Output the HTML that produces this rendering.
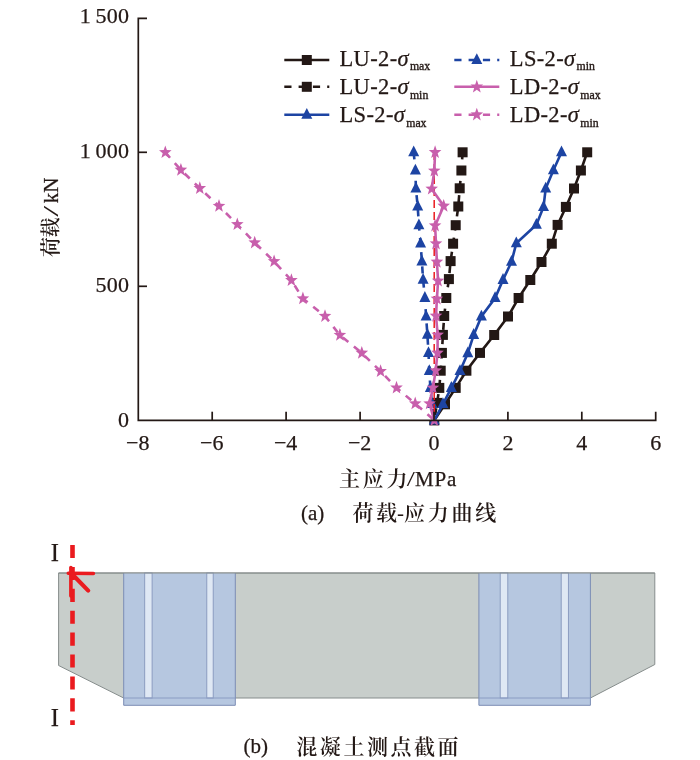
<!DOCTYPE html>
<html><head><meta charset="utf-8"><title>荷载-应力曲线</title>
<style>
html,body{margin:0;padding:0;background:#fff;}
svg{display:block;}
text{font-family:"Liberation Serif","Noto Serif CJK SC",serif;fill:#231815;}
.num{font-size:22px;stroke:#231815;stroke-width:0.25px;}
.leg{font-size:22.5px;letter-spacing:0.35px;stroke:#231815;stroke-width:0.25px;}
.sub{font-size:11.8px;letter-spacing:0;stroke:#231815;stroke-width:0.35px;}
.han{font-size:21px;font-weight:600;}
.hy{font-weight:400;}
.sl{font-size:21px;}
.I{font-size:24.5px;stroke:#231815;stroke-width:0.25px;}
.lat{font-size:21px;stroke:#231815;stroke-width:0.25px;}
</style></head>
<body>
<svg width="700" height="760" viewBox="0 0 700 760">
<rect width="700" height="760" fill="#fff"/>
<defs><clipPath id="below"><rect x="420" y="421.1" width="30" height="10"/></clipPath></defs>
<polyline points="587.2,152.3 580.9,170.5 574.0,188.5 565.9,206.9 557.6,224.9 551.8,243.7 541.5,262.0 530.3,280.0 518.6,298.0 508.0,316.5 494.2,335.0 480.0,352.9 466.4,370.7 455.7,387.9 445.0,404.3 434.3,420.3" fill="none" stroke="#231815" stroke-width="2.6"/>
<rect x="582.2" y="147.3" width="10" height="10" fill="#231815"/>
<rect x="575.9" y="165.5" width="10" height="10" fill="#231815"/>
<rect x="569.0" y="183.5" width="10" height="10" fill="#231815"/>
<rect x="560.9" y="201.9" width="10" height="10" fill="#231815"/>
<rect x="552.6" y="219.9" width="10" height="10" fill="#231815"/>
<rect x="546.8" y="238.7" width="10" height="10" fill="#231815"/>
<rect x="536.5" y="257.0" width="10" height="10" fill="#231815"/>
<rect x="525.3" y="275.0" width="10" height="10" fill="#231815"/>
<rect x="513.6" y="293.0" width="10" height="10" fill="#231815"/>
<rect x="503.0" y="311.5" width="10" height="10" fill="#231815"/>
<rect x="489.2" y="330.0" width="10" height="10" fill="#231815"/>
<rect x="475.0" y="347.9" width="10" height="10" fill="#231815"/>
<rect x="461.4" y="365.7" width="10" height="10" fill="#231815"/>
<rect x="450.7" y="382.9" width="10" height="10" fill="#231815"/>
<rect x="440.0" y="399.3" width="10" height="10" fill="#231815"/>
<polyline points="462.6,152.3 461.4,170.5 459.7,188.3 458.3,206.5 455.7,225.2 453.1,243.7 450.6,261.1 448.9,279.1 446.3,298.0 444.2,316.0 442.9,334.9 441.9,352.9 440.7,370.7 439.3,387.9 437.1,402.9 434.3,420.3" fill="none" stroke="#231815" stroke-width="2.6" stroke-dasharray="7.15 7.15"/>
<rect x="457.6" y="147.3" width="10" height="10" fill="#231815"/>
<rect x="456.4" y="165.5" width="10" height="10" fill="#231815"/>
<rect x="454.7" y="183.3" width="10" height="10" fill="#231815"/>
<rect x="453.3" y="201.5" width="10" height="10" fill="#231815"/>
<rect x="450.7" y="220.2" width="10" height="10" fill="#231815"/>
<rect x="448.1" y="238.7" width="10" height="10" fill="#231815"/>
<rect x="445.6" y="256.1" width="10" height="10" fill="#231815"/>
<rect x="443.9" y="274.1" width="10" height="10" fill="#231815"/>
<rect x="441.3" y="293.0" width="10" height="10" fill="#231815"/>
<rect x="439.2" y="311.0" width="10" height="10" fill="#231815"/>
<rect x="437.9" y="329.9" width="10" height="10" fill="#231815"/>
<rect x="436.9" y="347.9" width="10" height="10" fill="#231815"/>
<rect x="435.7" y="365.7" width="10" height="10" fill="#231815"/>
<rect x="434.3" y="382.9" width="10" height="10" fill="#231815"/>
<rect x="432.1" y="397.9" width="10" height="10" fill="#231815"/>
<polyline points="561.5,152.3 553.4,170.3 545.7,188.5 543.5,207.0 536.4,224.8 516.3,243.3 511.5,261.8 503.0,279.9 495.1,298.0 481.4,316.5 473.7,334.9 467.8,353.2 460.0,371.0 451.4,387.9 442.9,404.1 434.3,420.3" fill="none" stroke="#1D44A3" stroke-width="2.6"/>
<polygon points="561.5,145.5 556.0,156.3 567.0,156.3" fill="#1D44A3"/>
<polygon points="553.4,163.5 547.9,174.3 558.9,174.3" fill="#1D44A3"/>
<polygon points="545.7,181.7 540.2,192.5 551.2,192.5" fill="#1D44A3"/>
<polygon points="543.5,200.2 538.0,211.0 549.0,211.0" fill="#1D44A3"/>
<polygon points="536.4,218.0 530.9,228.8 541.9,228.8" fill="#1D44A3"/>
<polygon points="516.3,236.5 510.8,247.3 521.8,247.3" fill="#1D44A3"/>
<polygon points="511.5,255.0 506.0,265.8 517.0,265.8" fill="#1D44A3"/>
<polygon points="503.0,273.1 497.5,283.9 508.5,283.9" fill="#1D44A3"/>
<polygon points="495.1,291.2 489.6,302.0 500.6,302.0" fill="#1D44A3"/>
<polygon points="481.4,309.7 475.9,320.5 486.9,320.5" fill="#1D44A3"/>
<polygon points="473.7,328.1 468.2,338.9 479.2,338.9" fill="#1D44A3"/>
<polygon points="467.8,346.4 462.3,357.2 473.3,357.2" fill="#1D44A3"/>
<polygon points="460.0,364.2 454.5,375.0 465.5,375.0" fill="#1D44A3"/>
<polygon points="451.4,381.1 445.9,391.9 456.9,391.9" fill="#1D44A3"/>
<polygon points="442.9,397.3 437.4,408.1 448.4,408.1" fill="#1D44A3"/>
<polyline points="413.7,152.3 415.4,170.5 415.9,188.5 417.7,206.6 418.9,225.2 420.6,243.5 421.9,261.6 423.1,279.8 424.9,297.9 426.1,316.5 427.4,334.8 428.5,353.0 429.3,371.0 430.4,387.9 432.0,404.1 434.3,420.3" fill="none" stroke="#1D44A3" stroke-width="2.6" stroke-dasharray="7.15 7.15"/>
<polygon points="413.7,145.5 408.2,156.3 419.2,156.3" fill="#1D44A3"/>
<polygon points="415.4,163.7 409.9,174.5 420.9,174.5" fill="#1D44A3"/>
<polygon points="415.9,181.7 410.4,192.5 421.4,192.5" fill="#1D44A3"/>
<polygon points="417.7,199.8 412.2,210.6 423.2,210.6" fill="#1D44A3"/>
<polygon points="418.9,218.4 413.4,229.2 424.4,229.2" fill="#1D44A3"/>
<polygon points="420.6,236.7 415.1,247.5 426.1,247.5" fill="#1D44A3"/>
<polygon points="421.9,254.8 416.4,265.6 427.4,265.6" fill="#1D44A3"/>
<polygon points="423.1,273.0 417.6,283.8 428.6,283.8" fill="#1D44A3"/>
<polygon points="424.9,291.1 419.4,301.9 430.4,301.9" fill="#1D44A3"/>
<polygon points="426.1,309.7 420.6,320.5 431.6,320.5" fill="#1D44A3"/>
<polygon points="427.4,328.0 421.9,338.8 432.9,338.8" fill="#1D44A3"/>
<polygon points="428.5,346.2 423.0,357.0 434.0,357.0" fill="#1D44A3"/>
<polygon points="429.3,364.2 423.8,375.0 434.8,375.0" fill="#1D44A3"/>
<polygon points="430.4,381.1 424.9,391.9 435.9,391.9" fill="#1D44A3"/>
<polygon points="432.0,397.3 426.5,408.1 437.5,408.1" fill="#1D44A3"/>
<line x1="434.2" y1="152" x2="434.2" y2="420" stroke="#EA1B1F" stroke-width="1.5" stroke-dasharray="8 4"/>
<polyline points="435.1,152.3 434.3,170.9 431.7,188.9 443.7,206.0 435.1,225.7 436.0,243.7 436.9,262.0 438.1,280.9 436.9,298.9 436.0,316.0 437.7,334.9 437.5,353.0 435.7,370.7 432.9,387.9 429.6,403.6 434.3,421.0" fill="none" stroke="#C85FAC" stroke-width="2.6"/>
<polygon points="435.1,145.3 436.7,149.9 441.4,150.1 437.7,153.2 439.0,158.0 435.1,155.2 431.2,158.0 432.5,153.2 428.8,150.1 433.5,149.9" fill="#C85FAC"/>
<polygon points="434.3,163.9 435.9,168.5 440.6,168.7 436.9,171.8 438.2,176.6 434.3,173.8 430.4,176.6 431.7,171.8 428.0,168.7 432.7,168.5" fill="#C85FAC"/>
<polygon points="431.7,181.9 433.3,186.5 438.0,186.7 434.3,189.8 435.6,194.6 431.7,191.8 427.8,194.6 429.1,189.8 425.4,186.7 430.1,186.5" fill="#C85FAC"/>
<polygon points="443.7,199.0 445.3,203.6 450.0,203.8 446.3,206.9 447.6,211.7 443.7,208.9 439.8,211.7 441.1,206.9 437.4,203.8 442.1,203.6" fill="#C85FAC"/>
<polygon points="435.1,218.7 436.7,223.3 441.4,223.5 437.7,226.6 439.0,231.4 435.1,228.6 431.2,231.4 432.5,226.6 428.8,223.5 433.5,223.3" fill="#C85FAC"/>
<polygon points="436.0,236.7 437.6,241.3 442.3,241.5 438.6,244.6 439.9,249.4 436.0,246.6 432.1,249.4 433.4,244.6 429.7,241.5 434.4,241.3" fill="#C85FAC"/>
<polygon points="436.9,255.0 438.5,259.6 443.2,259.8 439.5,262.9 440.8,267.7 436.9,264.9 433.0,267.7 434.3,262.9 430.6,259.8 435.3,259.6" fill="#C85FAC"/>
<polygon points="438.1,273.9 439.7,278.5 444.4,278.7 440.7,281.8 442.0,286.6 438.1,283.8 434.2,286.6 435.5,281.8 431.8,278.7 436.5,278.5" fill="#C85FAC"/>
<polygon points="436.9,291.9 438.5,296.5 443.2,296.7 439.5,299.8 440.8,304.6 436.9,301.8 433.0,304.6 434.3,299.8 430.6,296.7 435.3,296.5" fill="#C85FAC"/>
<polygon points="436.0,309.0 437.6,313.6 442.3,313.8 438.6,316.9 439.9,321.7 436.0,318.9 432.1,321.7 433.4,316.9 429.7,313.8 434.4,313.6" fill="#C85FAC"/>
<polygon points="437.7,327.9 439.3,332.5 444.0,332.7 440.3,335.8 441.6,340.6 437.7,337.8 433.8,340.6 435.1,335.8 431.4,332.7 436.1,332.5" fill="#C85FAC"/>
<polygon points="437.5,346.0 439.1,350.6 443.8,350.8 440.1,353.9 441.4,358.7 437.5,355.9 433.6,358.7 434.9,353.9 431.2,350.8 435.9,350.6" fill="#C85FAC"/>
<polygon points="435.7,363.7 437.3,368.3 442.0,368.5 438.3,371.6 439.6,376.4 435.7,373.6 431.8,376.4 433.1,371.6 429.4,368.5 434.1,368.3" fill="#C85FAC"/>
<polygon points="432.9,380.9 434.5,385.5 439.2,385.7 435.5,388.8 436.8,393.6 432.9,390.8 429.0,393.6 430.3,388.8 426.6,385.7 431.3,385.5" fill="#C85FAC"/>
<polygon points="429.6,396.6 431.2,401.2 435.9,401.4 432.2,404.5 433.5,409.3 429.6,406.5 425.7,409.3 427.0,404.5 423.3,401.4 428.0,401.2" fill="#C85FAC"/>
<polyline points="165.3,152.4 180.9,170.0 199.8,188.3 219.0,206.1 237.3,224.4 254.7,242.7 274.1,261.4 291.4,280.3 302.9,298.6 325.0,316.2 339.9,335.1 361.8,353.0 380.6,371.3 396.5,387.8 415.2,403.6 434.3,420.3" fill="none" stroke="#C85FAC" stroke-width="2.6" stroke-dasharray="7.15 7.15"/>
<polygon points="165.3,145.4 166.9,150.0 171.6,150.2 167.9,153.3 169.2,158.1 165.3,155.3 161.4,158.1 162.7,153.3 159.0,150.2 163.7,150.0" fill="#C85FAC"/>
<polygon points="180.9,163.0 182.5,167.6 187.2,167.8 183.5,170.9 184.8,175.7 180.9,172.9 177.0,175.7 178.3,170.9 174.6,167.8 179.3,167.6" fill="#C85FAC"/>
<polygon points="199.8,181.3 201.4,185.9 206.1,186.1 202.4,189.2 203.7,194.0 199.8,191.2 195.9,194.0 197.2,189.2 193.5,186.1 198.2,185.9" fill="#C85FAC"/>
<polygon points="219.0,199.1 220.6,203.7 225.3,203.9 221.6,207.0 222.9,211.8 219.0,209.0 215.1,211.8 216.4,207.0 212.7,203.9 217.4,203.7" fill="#C85FAC"/>
<polygon points="237.3,217.4 238.9,222.0 243.6,222.2 239.9,225.3 241.2,230.1 237.3,227.3 233.4,230.1 234.7,225.3 231.0,222.2 235.7,222.0" fill="#C85FAC"/>
<polygon points="254.7,235.7 256.3,240.3 261.0,240.5 257.3,243.6 258.6,248.4 254.7,245.6 250.8,248.4 252.1,243.6 248.4,240.5 253.1,240.3" fill="#C85FAC"/>
<polygon points="274.1,254.4 275.7,259.0 280.4,259.2 276.7,262.3 278.0,267.1 274.1,264.3 270.2,267.1 271.5,262.3 267.8,259.2 272.5,259.0" fill="#C85FAC"/>
<polygon points="291.4,273.3 293.0,277.9 297.7,278.1 294.0,281.2 295.3,286.0 291.4,283.2 287.5,286.0 288.8,281.2 285.1,278.1 289.8,277.9" fill="#C85FAC"/>
<polygon points="302.9,291.6 304.5,296.2 309.2,296.4 305.5,299.5 306.8,304.3 302.9,301.5 299.0,304.3 300.3,299.5 296.6,296.4 301.3,296.2" fill="#C85FAC"/>
<polygon points="325.0,309.2 326.6,313.8 331.3,314.0 327.6,317.1 328.9,321.9 325.0,319.1 321.1,321.9 322.4,317.1 318.7,314.0 323.4,313.8" fill="#C85FAC"/>
<polygon points="339.9,328.1 341.5,332.7 346.2,332.9 342.5,336.0 343.8,340.8 339.9,338.0 336.0,340.8 337.3,336.0 333.6,332.9 338.3,332.7" fill="#C85FAC"/>
<polygon points="361.8,346.0 363.4,350.6 368.1,350.8 364.4,353.9 365.7,358.7 361.8,355.9 357.9,358.7 359.2,353.9 355.5,350.8 360.2,350.6" fill="#C85FAC"/>
<polygon points="380.6,364.3 382.2,368.9 386.9,369.1 383.2,372.2 384.5,377.0 380.6,374.2 376.7,377.0 378.0,372.2 374.3,369.1 379.0,368.9" fill="#C85FAC"/>
<polygon points="396.5,380.8 398.1,385.4 402.8,385.6 399.1,388.7 400.4,393.5 396.5,390.7 392.6,393.5 393.9,388.7 390.2,385.6 394.9,385.4" fill="#C85FAC"/>
<polygon points="415.2,396.6 416.8,401.2 421.5,401.4 417.8,404.5 419.1,409.3 415.2,406.5 411.3,409.3 412.6,404.5 408.9,401.4 413.6,401.2" fill="#C85FAC"/>
<g clip-path="url(#below)"><rect x="429.3" y="415.4" width="10" height="10" fill="#231815"/><polygon points="434.3,413.8 428.8,424.6 439.8,424.6" fill="#1D44A3"/><polygon points="434.3,413.3 435.9,417.9 440.6,418.1 436.9,421.2 438.2,426.0 434.3,423.2 430.4,426.0 431.7,421.2 428.0,418.1 432.7,417.9" fill="#C85FAC"/></g>
<path d="M147,18.3 H138.3 V420.3 H655.7 V411.7" fill="none" stroke="#231815" stroke-width="1.7"/>
<line x1="138.3" y1="152.3" x2="147" y2="152.3" stroke="#231815" stroke-width="1.7"/>
<line x1="138.3" y1="286.3" x2="147" y2="286.3" stroke="#231815" stroke-width="1.7"/>
<line x1="212.2" y1="420.3" x2="212.2" y2="411.7" stroke="#231815" stroke-width="1.7"/>
<line x1="286.1" y1="420.3" x2="286.1" y2="411.7" stroke="#231815" stroke-width="1.7"/>
<line x1="360.1" y1="420.3" x2="360.1" y2="411.7" stroke="#231815" stroke-width="1.7"/>
<line x1="434.0" y1="420.3" x2="434.0" y2="411.7" stroke="#231815" stroke-width="1.7"/>
<line x1="507.9" y1="420.3" x2="507.9" y2="411.7" stroke="#231815" stroke-width="1.7"/>
<line x1="581.8" y1="420.3" x2="581.8" y2="411.7" stroke="#231815" stroke-width="1.7"/>
<text x="129.2" y="23.3" text-anchor="end" class="num" style="letter-spacing:0.2px">1 500</text>
<text x="129.2" y="157.7" text-anchor="end" class="num" style="letter-spacing:0.2px">1 000</text>
<text x="129.2" y="292.2" text-anchor="end" class="num" style="letter-spacing:0.2px">500</text>
<text x="129.2" y="426.9" text-anchor="end" class="num" style="letter-spacing:0.2px">0</text>
<text x="137.8" y="449.5" text-anchor="middle" class="num">−8</text>
<text x="211.7" y="449.5" text-anchor="middle" class="num">−6</text>
<text x="285.6" y="449.5" text-anchor="middle" class="num">−4</text>
<text x="359.6" y="449.5" text-anchor="middle" class="num">−2</text>
<text x="434.0" y="449.5" text-anchor="middle" class="num">0</text>
<text x="507.9" y="449.5" text-anchor="middle" class="num">2</text>
<text x="581.8" y="449.5" text-anchor="middle" class="num">4</text>
<text x="655.7" y="449.5" text-anchor="middle" class="num">6</text>
<line x1="284.3" y1="60" x2="329.3" y2="60" stroke="#231815" stroke-width="2.6"/>
<rect x="301.8" y="55.0" width="10" height="10" fill="#231815"/>
<text x="339.5" y="65.7" class="leg">LU-2-<tspan font-style="italic">σ</tspan><tspan class="sub" dy="4.6" dx="1">max</tspan></text>
<line x1="284.3" y1="86.8" x2="329.3" y2="86.8" stroke="#231815" stroke-width="2.6" stroke-dasharray="7.2 7.1"/>
<rect x="301.8" y="81.8" width="10" height="10" fill="#231815"/>
<text x="339.5" y="94.2" class="leg">LU-2-<tspan font-style="italic">σ</tspan><tspan class="sub" dy="4.6" dx="1">min</tspan></text>
<line x1="284.3" y1="114.7" x2="329.3" y2="114.7" stroke="#1D44A3" stroke-width="2.6"/>
<polygon points="306.8,107.9 301.3,118.7 312.3,118.7" fill="#1D44A3"/>
<text x="339.5" y="122.3" class="leg">LS-2-<tspan font-style="italic">σ</tspan><tspan class="sub" dy="4.6" dx="1">max</tspan></text>
<line x1="454.3" y1="60" x2="499.3" y2="60" stroke="#1D44A3" stroke-width="2.6" stroke-dasharray="7.2 7.1"/>
<polygon points="476.8,53.2 471.3,64.0 482.3,64.0" fill="#1D44A3"/>
<text x="509.8" y="65.7" class="leg">LS-2-<tspan font-style="italic">σ</tspan><tspan class="sub" dy="4.6" dx="1">min</tspan></text>
<line x1="454.3" y1="86.8" x2="499.3" y2="86.8" stroke="#C85FAC" stroke-width="2.6"/>
<polygon points="476.8,79.8 478.4,84.4 483.1,84.6 479.4,87.7 480.7,92.5 476.8,89.7 472.9,92.5 474.2,87.7 470.5,84.6 475.2,84.4" fill="#C85FAC"/>
<text x="509.8" y="94.2" class="leg">LD-2-<tspan font-style="italic">σ</tspan><tspan class="sub" dy="4.6" dx="1">max</tspan></text>
<line x1="454.3" y1="114.7" x2="499.3" y2="114.7" stroke="#C85FAC" stroke-width="2.6" stroke-dasharray="7.2 7.1"/>
<polygon points="476.8,107.7 478.4,112.3 483.1,112.5 479.4,115.6 480.7,120.4 476.8,117.6 472.9,120.4 474.2,115.6 470.5,112.5 475.2,112.3" fill="#C85FAC"/>
<text x="509.8" y="122.3" class="leg">LD-2-<tspan font-style="italic">σ</tspan><tspan class="sub" dy="4.6" dx="1">min</tspan></text>

<g transform="translate(58.4,257.2) rotate(-90)">
<text x="0.3" y="-0.4" class="han" style="font-size:20px;letter-spacing:-0.6px">荷载</text>
<text transform="translate(45.9,0) scale(1.9,1)" text-anchor="middle" class="sl">/</text>
<text x="54" y="0" class="lat">kN</text>
</g>
<text x="339" y="486.3" class="han" style="letter-spacing:2.7px">主应力</text>
<text transform="translate(410.8,486) scale(1.4,1)" text-anchor="middle" class="sl">/</text>
<text x="415" y="486" class="lat" style="letter-spacing:0.8px">MPa</text>
<text x="301" y="519.5" class="lat">(a)</text>
<text x="352.4" y="519.8" class="han"><tspan style="letter-spacing:2.7px">荷</tspan>载<tspan class="hy">-</tspan><tspan style="letter-spacing:2.7px">应力曲线</tspan></text>
<text x="243.5" y="753" class="lat">(b)</text>
<text x="296.3" y="753.5" class="han" style="letter-spacing:2.55px">混凝土测点截面</text>

<polygon points="58.6,573 654.8,573 654.8,664.5 590.4,698 123.7,698 58.6,665.5" fill="#C8CECB" stroke="#868D8C" stroke-width="1" stroke-linejoin="round"/>
<rect x="123.7" y="573" width="111.6" height="132.3" fill="#B6C7E0"/>
<rect x="144.7" y="573" width="7.4" height="125" fill="#DFE8F4" stroke="#8596BC" stroke-width="0.9"/>
<rect x="206.8" y="573" width="6.4" height="125" fill="#DFE8F4" stroke="#8596BC" stroke-width="0.9"/>
<path d="M123.7,573 V705.3 H235.3 V573" fill="none" stroke="#7C8DB4" stroke-width="1"/>
<line x1="123.7" y1="698" x2="235.3" y2="698" stroke="#8A9CC3" stroke-width="1"/>
<rect x="478.9" y="573" width="111.5" height="132.3" fill="#B6C7E0"/>
<rect x="500.2" y="573" width="7.6" height="125" fill="#DFE8F4" stroke="#8596BC" stroke-width="0.9"/>
<rect x="561.2" y="573" width="7.2" height="125" fill="#DFE8F4" stroke="#8596BC" stroke-width="0.9"/>
<path d="M478.9,573 V705.3 H590.4 V573" fill="none" stroke="#7C8DB4" stroke-width="1"/>
<line x1="478.9" y1="698" x2="590.4" y2="698" stroke="#8A9CC3" stroke-width="1"/>
<line x1="58.6" y1="573" x2="654.8" y2="573" stroke="#868D8C" stroke-width="1"/>
<line x1="72.5" y1="545" x2="72.5" y2="725" stroke="#EA1B1F" stroke-width="4.6" stroke-dasharray="13.1 8.8"/>
<path d="M70.9,567.5 V596" fill="none" stroke="#EA1B1F" stroke-width="3.6" stroke-linecap="round"/>
<path d="M68.3,573.2 L93.4,573.5" fill="none" stroke="#EA1B1F" stroke-width="3.6" stroke-linecap="round"/>
<path d="M72.5,574.5 L88.2,590.6" fill="none" stroke="#EA1B1F" stroke-width="4.2" stroke-linecap="round"/>
<text x="54.8" y="560.7" text-anchor="middle" class="I">I</text>
<text x="54.8" y="726.1" text-anchor="middle" class="I">I</text>
</svg>
</body></html>
